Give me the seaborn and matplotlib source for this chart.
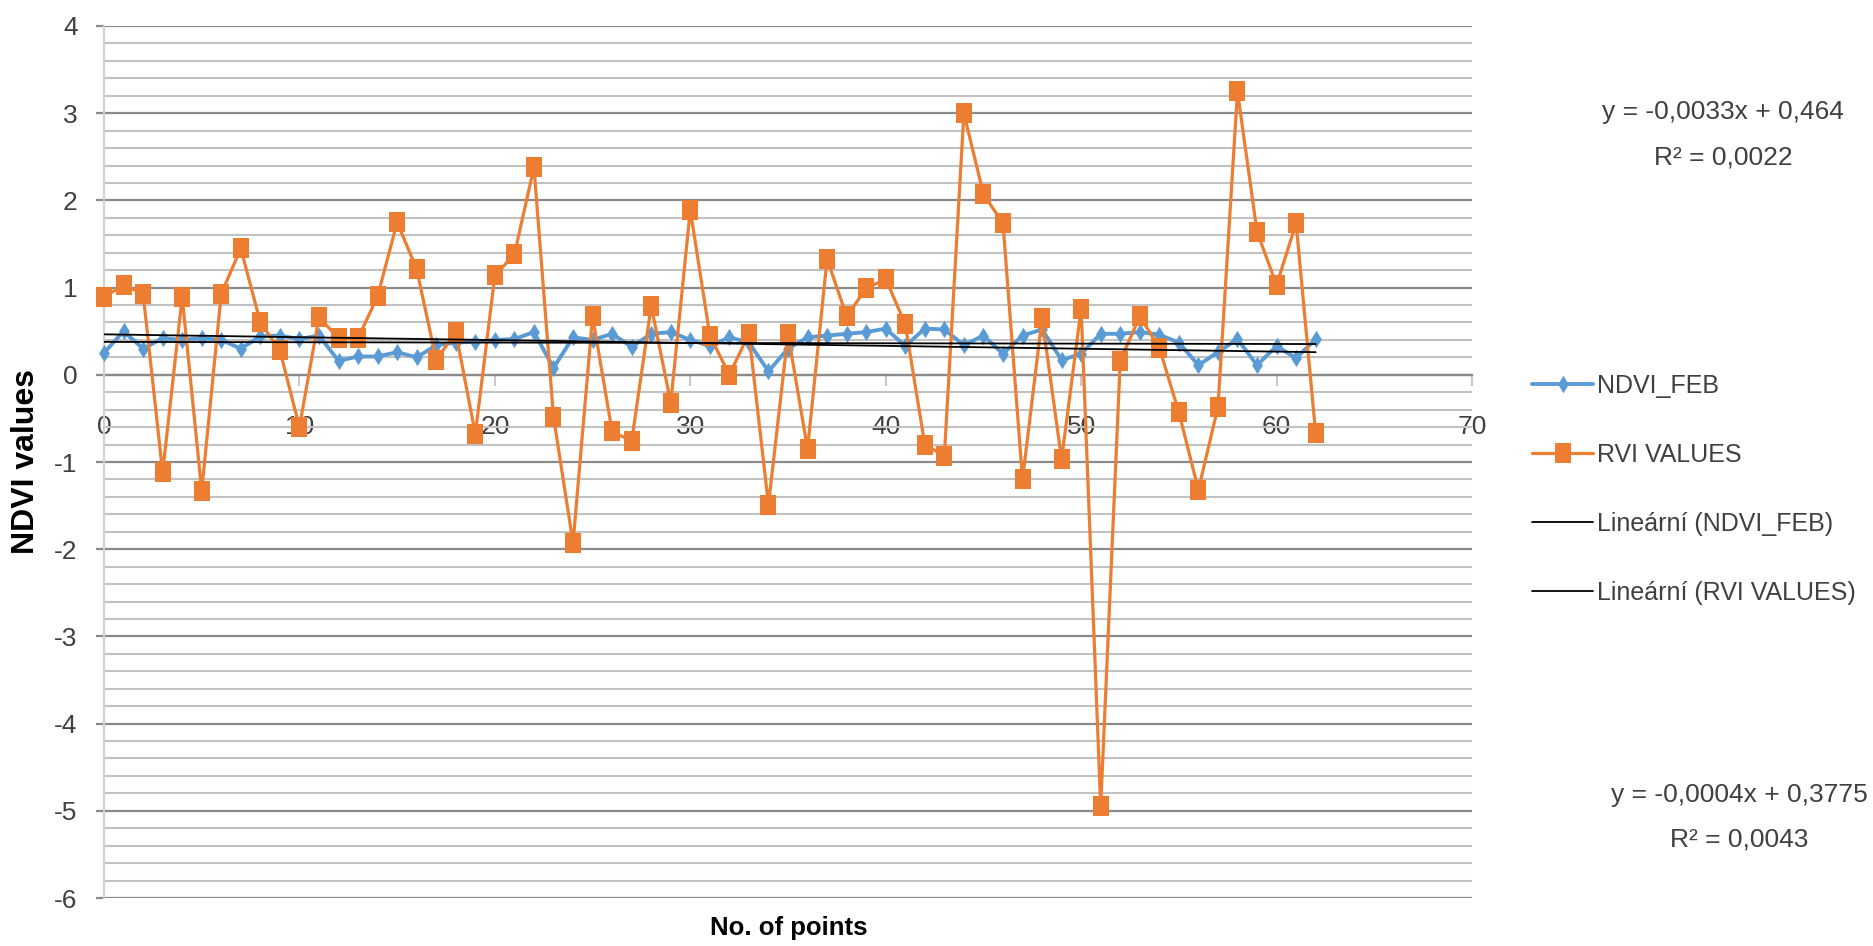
import numpy as np
import pandas as pd
import matplotlib
matplotlib.use("Agg")
import matplotlib.pyplot as plt
import seaborn as sns
from matplotlib.ticker import MultipleLocator, FuncFormatter

# ---------------- data ----------------
points = list(range(63))
ndvi_feb = [0.25, 0.50, 0.30, 0.42, 0.40, 0.42, 0.40, 0.30, 0.44, 0.45,
            0.41, 0.45, 0.16, 0.21, 0.21, 0.26, 0.20, 0.34, 0.37, 0.38,
            0.40, 0.41, 0.49, 0.08, 0.43, 0.40, 0.47, 0.32, 0.47, 0.49,
            0.40, 0.33, 0.43, 0.37, 0.04, 0.30, 0.43, 0.45, 0.47, 0.49,
            0.53, 0.33, 0.53, 0.52, 0.34, 0.45, 0.24, 0.45, 0.52, 0.17,
            0.24, 0.47, 0.47, 0.49, 0.46, 0.37, 0.11, 0.26, 0.41, 0.11,
            0.33, 0.19, 0.41]
rvi_values = [0.89, 1.03, 0.93, -1.12, 0.89, -1.33, 0.93, 1.45, 0.60, 0.28,
              -0.60, 0.66, 0.42, 0.42, 0.90, 1.75, 1.21, 0.17, 0.49, -0.68,
              1.14, 1.38, 2.38, -0.48, -1.93, 0.67, -0.65, -0.76, 0.79, -0.32,
              1.89, 0.45, 0.00, 0.47, -1.49, 0.47, -0.85, 1.33, 0.67, 0.99,
              1.10, 0.58, -0.80, -0.93, 3.00, 2.07, 1.74, -1.20, 0.65, -0.97,
              0.76, -4.95, 0.16, 0.67, 0.31, -0.43, -1.32, -0.37, 3.25, 1.64,
              1.03, 1.74, -0.67]
series_names = ["NDVI_FEB", "RVI VALUES"]
trend_names = ["Lineární (NDVI_FEB)", "Lineární (RVI VALUES)"]
trend_slope = [-0.0004, -0.0033]
trend_intercept = [0.3775, 0.464]
equation_texts = ["y = -0,0004x + 0,3775", "y = -0,0033x + 0,464"]
r2_texts = ["R² = 0,0043", "R² = 0,0022"]
x_ticks = [0, 10, 20, 30, 40, 50, 60, 70]
x_label = "No. of points"
y_label = "NDVI values"

# ---------------- style ----------------
sns.set_style("white")
plt.rcParams["font.family"] = ["Liberation Sans", "DejaVu Sans"]

BLUE = "#5B9BD5"
ORANGE = "#ED7D31"
TXT = "#404040"
MAJ = "#8a8a8a"
MIN = "#c2c2c2"

W, H = 1873, 946
fig = plt.figure(figsize=(W / 100, H / 100), dpi=100)
ax = fig.add_axes([104 / W, 1 - 898 / H, 1368 / W, 872 / H])

df = pd.DataFrame({"point": points, series_names[0]: ndvi_feb, series_names[1]: rvi_values})

diamond = [(0, 1), (0.62, 0), (0, -1), (-0.62, 0), (0, 1)]
rect = [(-0.8, -1), (0.8, -1), (0.8, 1), (-0.8, 1), (-0.8, -1)]

sns.lineplot(data=df, x="point", y=series_names[0], ax=ax, color=BLUE, lw=2.8,
             marker=diamond, markersize=12.5, markeredgewidth=0, markeredgecolor=BLUE,
             markerfacecolor=BLUE, label=series_names[0], zorder=3, clip_on=False)
sns.lineplot(data=df, x="point", y=series_names[1], ax=ax, color=ORANGE, lw=2.3,
             marker=rect, markersize=14.5, markeredgewidth=0, markeredgecolor=ORANGE,
             markerfacecolor=ORANGE, label=series_names[1], zorder=4, clip_on=False)

xs = np.array(points, dtype=float)
for name, s, b in zip(trend_names, trend_slope, trend_intercept):
    sns.lineplot(x=xs, y=s * xs + b, ax=ax, color="black", lw=1.3, label=name, zorder=5)

ax.set_xlim(0, 70)
ax.set_ylim(-6, 4)
ax.set_xlabel("")
ax.set_ylabel("")

ax.yaxis.set_major_locator(MultipleLocator(1))
ax.yaxis.set_minor_locator(MultipleLocator(0.2))
ax.yaxis.set_major_formatter(FuncFormatter(lambda v, p: f"{int(round(v))}"))
ax.set_xticks(x_ticks)
ax.set_xticklabels([str(t) for t in x_ticks])

ax.grid(False)
ax.grid(which="major", axis="y", color=MAJ, lw=1.6)
ax.grid(which="minor", axis="y", color=MIN, lw=1.5)
ax.set_axisbelow(True)

for sp in ["top", "right"]:
    ax.spines[sp].set_visible(False)
ax.spines["left"].set_color("#d0d0d0")
ax.spines["left"].set_linewidth(1.5)
ax.spines["bottom"].set_position(("data", 0))
ax.spines["bottom"].set_color(MAJ)
ax.spines["bottom"].set_linewidth(1.6)
ax.spines["bottom"].set_zorder(1)

ax.tick_params(axis="x", which="major", bottom=True, length=8, width=1.5, color="#c8c8c8",
               pad=21, labelsize=19, labelcolor=TXT)
ax.tick_params(axis="y", which="major", left=True, length=6, width=1.6, color=MAJ,
               pad=13, labelsize=19, labelcolor=TXT)
ax.tick_params(axis="y", which="minor", left=False, length=0)

fig.text(26 / W, 1 - 461 / H, y_label, rotation=90, ha="center", va="center",
         fontsize=23, fontweight="bold", color="black")
fig.text(789 / W, 1 - 928 / H, x_label, ha="center", va="center",
         fontsize=18.5, fontweight="bold", color="black")

# trendline equation labels
fig.text(1739 / W, 1 - 795 / H, equation_texts[0], ha="center", va="center", fontsize=19, color=TXT)
fig.text(1739 / W, 1 - 840 / H, r2_texts[0], ha="center", va="center", fontsize=19, color=TXT)
fig.text(1723 / W, 1 - 112 / H, equation_texts[1], ha="center", va="center", fontsize=19, color=TXT)
fig.text(1723 / W, 1 - 158 / H, r2_texts[1], ha="center", va="center", fontsize=19, color=TXT)

handles, labels = ax.get_legend_handles_labels()
ax.legend(handles, labels, loc="upper left", bbox_to_anchor=(1532 / W, 1 - 374 / H),
          bbox_transform=fig.transFigure, frameon=False, fontsize=18,
          handlelength=2.45, handletextpad=0.16, labelspacing=1.8,
          borderpad=0, borderaxespad=0, labelcolor=TXT)

fig.savefig("out.png", dpi=100)
